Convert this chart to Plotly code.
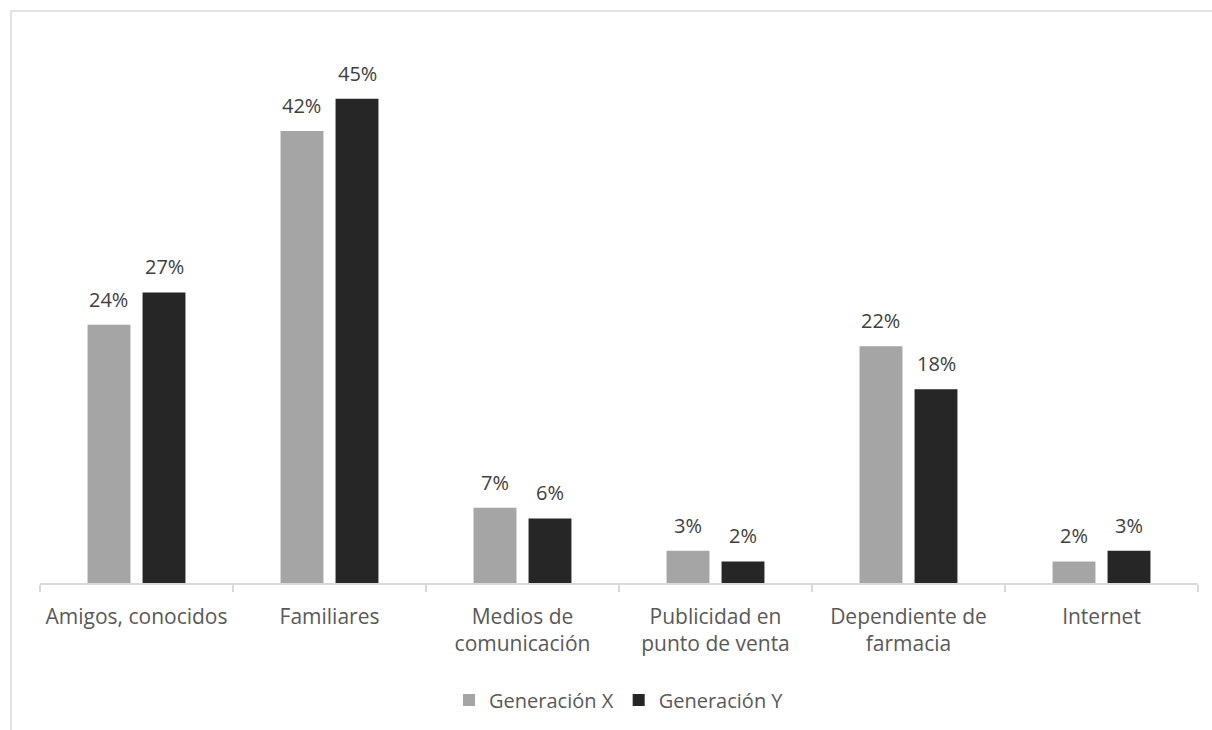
import plotly.graph_objects as go

# Fuentes de información por generación
categorias = ["Amigos, conocidos", "Familiares", "Medios de<br>comunicación",
              "Publicidad en<br>punto de venta", "Dependiente de<br>farmacia", "Internet"]
gen_x = [0.24, 0.42, 0.07, 0.03, 0.22, 0.02]
gen_y = [0.27, 0.45, 0.06, 0.02, 0.18, 0.03]

W, H = 1212, 730
ML, MR, MT, MB = 40, 14, 45, 147
BARGAP, GROUPGAP = 0.43, 0.22
FONT = "'Open Sans', sans-serif"

fig = go.Figure()
fig.add_trace(go.Bar(name="Generación X", x=categorias, y=gen_x, marker_color="#A5A5A5",
                     marker_line_width=0))
fig.add_trace(go.Bar(name="Generación Y", x=categorias, y=gen_y, marker_color="#262626",
                     marker_line_width=0))

# value labels above each bar, offset to each bar of the group
plot_w = W - ML - MR
slot = plot_w / len(categorias) * (1 - BARGAP) / 2
for serie, sign in ((gen_x, -1), (gen_y, 1)):
    for c, v in zip(categorias, serie):
        fig.add_annotation(x=c, y=v, text=f"{round(v * 100)}%", showarrow=False,
                           xref="x", yref="y", yanchor="bottom", xshift=sign * slot / 2,
                           yshift=10, font=dict(family=FONT, size=20, color="#404040"))

# chart frame (left and top edges)
plot_h = H - MT - MB
fx = (11 - ML) / plot_w
fy = 1 + (MT - 11) / plot_h
fb = -MB / plot_h
fig.add_shape(type="path", xref="paper", yref="paper",
              path=f"M {fx} {fb - 0.05} L {fx} {fy} L 1.2 {fy}",
              line=dict(color="#D9D9D9", width=1.5))

fig.update_layout(
    width=W, height=H,
    margin=dict(l=ML, r=MR, t=MT, b=MB, autoexpand=False),
    barmode="group", bargap=BARGAP, bargroupgap=GROUPGAP,
    plot_bgcolor="white", paper_bgcolor="white",
    font=dict(family=FONT, size=20, color="#595959"),
    showlegend=True,
    legend=dict(orientation="h", x=0.5, xanchor="center",
                yref="container", y=30 / H, yanchor="middle",
                font=dict(size=20, color="#595959"), itemwidth=30),
    xaxis=dict(showline=True, linecolor="#D9D9D9", linewidth=1.5, ticks="outside",
               tickson="boundaries", ticklen=7, tickcolor="#D9D9D9", tickwidth=1.5,
               showgrid=False, automargin=False, ticklabelstandoff=14,
               tickfont=dict(size=21, color="#595959")),
    yaxis=dict(range=[0, 0.5], visible=False, showgrid=False),
)

fig.write_html("out.html")
